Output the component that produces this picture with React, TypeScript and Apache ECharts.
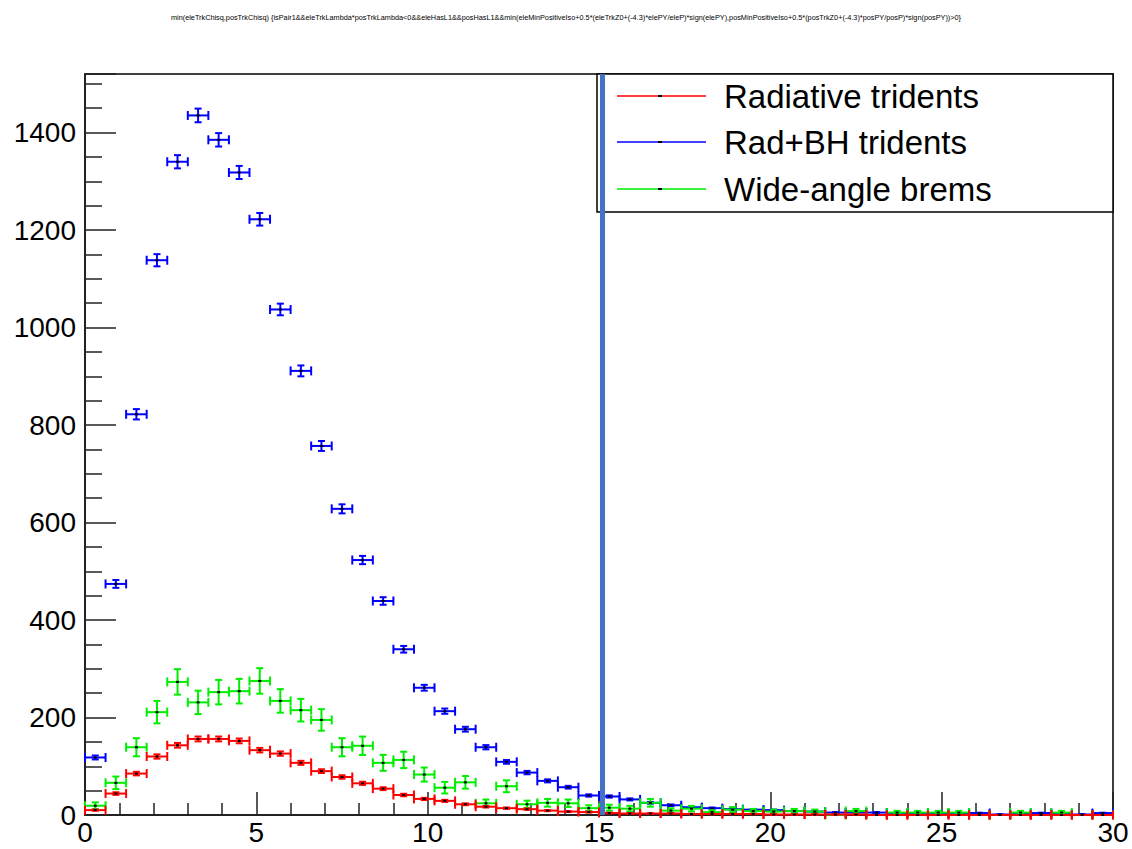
import React, { useEffect, useRef } from "react";
import * as echarts from "echarts";

const TITLE =
  "min(eleTrkChisq,posTrkChisq) {isPair1&&eleTrkLambda*posTrkLambda<0&&eleHasL1&&posHasL1&&min(eleMinPositiveIso+0.5*(eleTrkZ0+(-4.3)*elePY/eleP)*sign(elePY),posMinPositiveIso+0.5*(posTrkZ0+(-4.3)*posPY/posP)*sign(posPY))>0}";

const X_MIN = 0;
const X_MAX = 30;
const BIN_WIDTH = 0.6;
const Y_MAX = 1520;

const LEGEND_NAMES = ["Radiative tridents", "Rad+BH tridents", "Wide-angle brems"];
const COLORS = ["#ff0000", "#0000ff", "#00ee00"];
// per-series event weights (error = sqrt(weight * content))
const WEIGHTS = [0.16, 0.137, 2.5];

const radiative = [
  10, 44, 85, 120, 143, 156, 156, 152, 133, 126,
  107, 90, 78, 65, 54, 41, 33, 29, 22, 17,
  14, 12, 9, 7, 6, 4, 3, 3, 3, 2,
  2, 2, 2, 1, 1, 1, 1, 1, 0, 0,
  0, 0, 0, 0, 0, 0, 0, 0, 0, 0,
];

const radBH = [
  118, 474, 822, 1138, 1340, 1435, 1385, 1318, 1222, 1037,
  911, 757, 628, 523, 439, 340, 261, 213, 176, 139,
  109, 87, 70, 57, 40, 38, 32, 25, 20, 16,
  14, 12, 11, 10, 8, 7, 5, 5, 5, 4,
  4, 3, 3, 4, 1, 2, 4, 2, 1, 4,
];

const wideAngle = [
  19, 66, 139, 211, 273, 231, 252, 254, 275, 234,
  215, 195, 139, 142, 107, 113, 83, 56, 67, 24,
  59, 22, 25, 24, 14, 15, 13, 25, 9, 13,
  6, 11, 8, 7, 8, 7, 0, 8, 0, 5,
  5, 5, 5, 0, 0, 5, 0, 5, 0, 0,
];

const CUT_X = 15.1;

const FONT = "'Liberation Sans', Arial, sans-serif";

function makeRender(color: string, weight: number) {
  return (params: any, api: any) => {
    const x = api.value(0);
    const y = api.value(1);
    const err = Math.sqrt(weight * y);
    const pL = api.coord([x - BIN_WIDTH / 2, y]);
    const pR = api.coord([x + BIN_WIDTH / 2, y]);
    const pC = api.coord([x, y]);
    const pT = api.coord([x, y + err]);
    const pB = api.coord([x, y - err]);
    const style = { stroke: color, lineWidth: 2 };
    const hc = 4.5;
    const vc = 3.5;
    const children: any[] = [
      { type: "line", shape: { x1: pL[0], y1: pL[1], x2: pR[0], y2: pR[1] }, style },
      { type: "line", shape: { x1: pL[0], y1: pL[1] - hc, x2: pL[0], y2: pL[1] + hc }, style },
      { type: "line", shape: { x1: pR[0], y1: pR[1] - hc, x2: pR[0], y2: pR[1] + hc }, style },
    ];
    if (err > 0) {
      children.push(
        { type: "line", shape: { x1: pT[0], y1: pT[1], x2: pB[0], y2: pB[1] }, style },
        { type: "line", shape: { x1: pC[0] - vc, y1: pT[1], x2: pC[0] + vc, y2: pT[1] }, style },
        { type: "line", shape: { x1: pC[0] - vc, y1: pB[1], x2: pC[0] + vc, y2: pB[1] }, style }
      );
    }
    children.push({
      type: "rect",
      shape: { x: pC[0] - 1.5, y: pC[1] - 1, width: 3, height: 2 },
      style: { fill: "#000" },
    });
    return { type: "group", children };
  };
}

function toData(values: number[]) {
  return values.map((v, i) => [X_MIN + BIN_WIDTH * (i + 0.5), v]);
}

export default function App() {
  const ref = useRef<HTMLDivElement>(null);
  useEffect(() => {
    if (!ref.current) return;
    const chart = echarts.init(ref.current, null, { renderer: "svg" });
    const seriesValues = [radiative, radBH, wideAngle];
    const drawOrder = [1, 2, 0];
    const series: any[] = drawOrder.map((k) => ({
      type: "custom",
      name: LEGEND_NAMES[k],
      renderItem: makeRender(COLORS[k], WEIGHTS[k]),
      data: toData(seriesValues[k]),
      encode: { x: 0, y: 1 },
      z: 3,
    }));
    series.push({
      type: "line",
      data: [],
      z: 20,
      markLine: {
        silent: true,
        symbol: "none",
        label: { show: false },
        lineStyle: { color: "#4472C4", width: 5, type: "solid" },
        data: [{ xAxis: CUT_X }],
        z: 20,
      },
    });

    const legendRows = [96, 142, 189];
    const legendChildren: any[] = [
      {
        type: "rect",
        shape: { x: 597, y: 74, width: 516, height: 138 },
        style: { fill: "#fff", stroke: "#000", lineWidth: 1.5 },
        z: 10,
      },
    ];
    LEGEND_NAMES.forEach((name, i) => {
      const y = legendRows[i];
      legendChildren.push(
        {
          type: "line",
          shape: { x1: 617, y1: y, x2: 706, y2: y },
          style: { stroke: COLORS[i], lineWidth: 1.5 },
          z: 11,
        },
        {
          type: "rect",
          shape: { x: 658, y: y - 1, width: 4, height: 2 },
          style: { fill: "#000" },
          z: 12,
        },
        {
          type: "text",
          x: 724,
          y: y,
          style: {
            text: name,
            font: `33px ${FONT}`,
            fill: "#000",
            textVerticalAlign: "middle",
            textAlign: "left",
          },
          z: 11,
        }
      );
    });

    chart.setOption({
      animation: false,
      backgroundColor: "#fff",
      title: {
        text: TITLE,
        left: "center",
        top: 9,
        textStyle: { fontSize: 7.3, fontWeight: "normal", color: "#000", fontFamily: FONT },
      },
      grid: {
        left: 85,
        right: 19,
        top: 74,
        bottom: 34,
        show: true,
        borderColor: "#000",
        borderWidth: 1.5,
        backgroundColor: "transparent",
      },
      xAxis: {
        type: "value",
        min: X_MIN,
        max: X_MAX,
        interval: 5,
        axisLine: { show: true, onZero: false, lineStyle: { color: "#222", width: 2 } },
        axisTick: { show: true, inside: true, length: 23, lineStyle: { color: "#222", width: 1.5 } },
        minorTick: { show: true, splitNumber: 5, length: 12, lineStyle: { color: "#222", width: 1.5 } },
        splitLine: { show: false },
        axisLabel: { fontSize: 28, color: "#000", fontFamily: FONT, margin: 3 },
      },
      yAxis: {
        type: "value",
        min: 0,
        max: Y_MAX,
        interval: 200,
        axisLine: { show: true, lineStyle: { color: "#222", width: 2 } },
        axisTick: { show: true, inside: true, length: 31, lineStyle: { color: "#222", width: 1.5 } },
        minorTick: { show: true, splitNumber: 4, length: 17, lineStyle: { color: "#222", width: 1.5 } },
        splitLine: { show: false },
        axisLabel: {
          fontSize: 28,
          color: "#000",
          fontFamily: FONT,
          margin: 9,
          showMaxLabel: false,
          formatter: (v: number) => String(v),
        },
      },
      graphic: [{ type: "group", children: legendChildren, z: 10 }],
      series,
    });
    return () => chart.dispose();
  }, []);
  return (
    <div
      ref={ref}
      style={{ position: "fixed", left: 0, top: 0, width: 1132, height: 849, background: "#fff" }}
    />
  );
}
